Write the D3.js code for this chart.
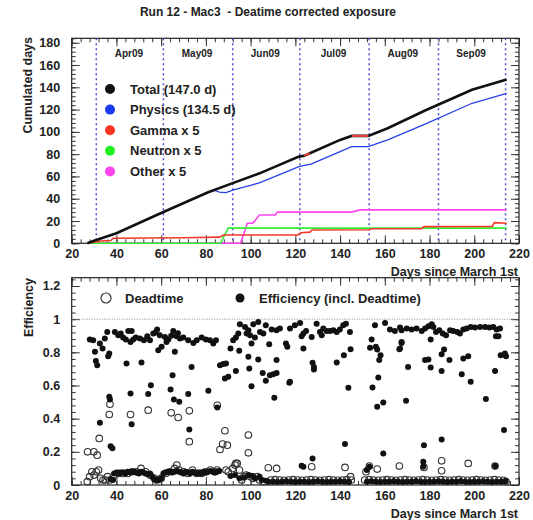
<!DOCTYPE html>
<html>
<head>
<meta charset="utf-8">
<script src="https://cdn.jsdelivr.net/npm/d3@7"></script>
<style>
  body { margin: 0; background: #fff; }
  text { font-family: "Liberation Sans", Arial, Helvetica, sans-serif; font-weight: bold; fill: #222; }
</style>
</head>
<body>
<div id="chart"></div>
<script>
// ---- data ----
var xTickValues = [20, 40, 60, 80, 100, 120, 140, 160, 180, 200, 220];
var daysTicks = [0, 20, 40, 60, 80, 100, 120, 140, 160, 180];
var effTicks = [0, 0.2, 0.4, 0.6, 0.8, 1, 1.2];

var monthStarts = [31, 61, 92, 122, 153, 184, 214];
var monthNames = ["Apr09", "May09", "Jun09", "Jul09", "Aug09", "Sep09"];

// cumulated days [day, value]
var totalDays = [[27,0],[30,2.2],[40,9],[60,27.2],[81,45.8],[92,54],[104,62.8],[121.6,77.8],[124,78.5],[126.5,80.8],
  [140,92.8],[145.2,96.4],[152.6,96.4],[161.3,103.3],[178,119.2],[199,137.8],[214.5,147]];
var totalRedSegments = [[[124,78.5],[126.5,80.8]], [[145.2,96.4],[152.6,96.4]]];
var physicsDays = [[27,0],[30,2.2],[40,9],[60,27.2],[81,45.8],[84,47.5],[86,46],[89,45.5],[92,47.8],[97,50.5],[100,52],
  [104.2,54.5],[121.6,68.8],[123,69.5],[127,71],[140,82.3],[145.2,86.8],[152.6,86.8],[161.3,92.8],[178,106.9],[199,125.7],[214.5,134.5]];
var gammaDays = [[27,0],[30,1],[33,2],[37.5,2.5],[38.5,4.5],[70,5],[86,5.5],[88,7.5],[121,7.5],[122.5,9.5],[126.5,10],
  [127.5,12],[153,12.2],[154,13],[176.5,13.2],[177.5,15],[208,15.2],[209,18.5],[214.5,18]];
var neutronDays = [[27,0],[86.5,0],[90,13.6],[214.5,13.6]];
var otherDays = [[27,0],[95.5,0],[98.5,18],[101,18],[104,25.4],[111,25.4],[112,28],[145,28],[149,30],[214.5,30]];

var legendNames = ["Total (147.0 d)", "Physics (134.5 d)", "Gamma x 5", "Neutron x 5", "Other x 5"];

// efficiency (filled) [day, eff]
var efficiency = [
  [28.1,0.877],[29.6,0.873],[30.4,0.803],[30.8,0.747],[31.4,0.722],[32.6,0.853],[33.8,0.823],[34.8,0.883],[35.9,0.923],
  [36.3,0.777],[36.8,0.793],[32.6,0.375],[36.8,0.532],[37.1,0.516],[37.4,0.234],[38.2,0.222],[39.3,0.923],[40.8,0.903],
  [41.9,0.913],[43.0,0.889],[44.2,0.877],[45.3,0.929],[46.8,0.929],[46.3,0.863],[47.5,0.877],[48.7,0.889],[44.5,0.733],
  [51.2,0.739],[46.3,0.552],[46.8,0.367],[50.5,0.883],[52.3,0.873],[53.8,0.897],[55.0,0.873],[56.5,0.913],[57.5,0.92],
  [58.2,0.937],[59.4,0.903],[58.7,0.813],[60.2,0.833],[54.2,0.548],[55.4,0.602],[61.7,0.893],[63.2,0.877],[62.4,0.863],
  [64.5,0.90],[65.4,0.929],[66.1,0.803],[66.9,0.897],[67.5,0.915],[68.4,0.883],[65.1,0.662],[64.2,0.576],[65.7,0.516],
  [68.1,0.502],
  [69.9,0.889],[72.1,0.873],[74.4,0.857],[75.9,0.873],[78.1,0.889],[80.0,0.877],[81.8,0.873],[83.3,0.853],[84.5,0.873],
  [73.6,0.712],[72.1,0.548],[72.6,0.335],[81.1,0.568],[85.1,0.467],[86.3,0.722],[87.8,0.729],[89.0,0.733],[88.5,0.642],
  [90.0,0.652],[91.0,0.823],[92.2,0.873],[93.4,0.889],[94.5,0.913],[94.9,0.809],[93.4,0.688],[95.2,0.969],[97.5,0.953],
  [99.0,0.933],[98.2,0.913],[99.7,0.903],[100.4,0.853],[101.9,0.889],[101.2,0.969],[103.4,0.983],[99.0,0.773],[99.4,0.702],
  [103.4,0.757],[100.4,0.596],[104.2,0.923],[105.7,0.913],[106.8,0.963],[105.4,0.676],[106.8,0.628],[108.3,0.849],
  [108.6,0.662],[110.1,0.668],[111.6,0.676],[111.6,0.753],[110.6,0.526],[109.4,0.937],[111.6,0.933],[113.1,0.943],
  [115.8,0.853],[116.4,0.833],[117.3,0.616],
  [117.6,0.943],[119.8,0.963],[122.1,0.977],[123.6,0.913],[124.8,0.929],[122.8,0.897],[123.6,0.823],[127.3,0.893],
  [129.5,0.973],[131.0,0.923],[131.8,0.903],[132.5,0.943],[134.0,0.929],[135.5,0.929],[137.0,0.933],[138.5,0.923],
  [139.9,0.937],[141.4,0.963],[142.6,0.973],[144.4,0.923],[127.7,0.737],[128.3,0.712],[128.3,0.696],[138.5,0.739],
  [141.7,0.783],[144.7,0.819],[117.6,0.622],[143.7,0.586],[142.2,0.247],[127.7,0.16],[122.8,0.116],[123.6,0.11],
  [155.6,0.963],[160.1,0.977],[154.1,0.877],[156.0,0.833],[156.6,0.817],[157.5,0.753],[158.1,0.783],[153.4,0.827],
  [157.1,0.648],[154.5,0.588],[156.6,0.472],[159.3,0.498],[159.3,0.19],[151.9,0.09],[153.1,0.11],[162.3,0.937],
  [164.5,0.929],[167.5,0.933],[166.5,0.819],[167.5,0.857],
  [166.8,0.949],[169.8,0.943],[172.0,0.937],[174.2,0.943],[176.5,0.929],[178.0,0.943],[179.5,0.957],[181.0,0.969],
  [181.7,0.953],[182.9,0.923],[184.4,0.933],[185.9,0.913],[187.4,0.903],[189.2,0.933],[190.6,0.929],[192.4,0.923],
  [193.6,0.913],[195.1,0.937],[196.6,0.943],[198.4,0.953],[200.3,0.949],[202.6,0.953],[204.8,0.953],[206.7,0.949],
  [208.5,0.953],[210.0,0.937],[211.5,0.943],
  [167.5,0.863],[166.8,0.823],[180.5,0.877],[178.0,0.753],[179.5,0.757],[180.5,0.708],[185.4,0.789],[186.5,0.817],
  [188.9,0.753],[185.4,0.688],[195.1,0.763],[197.3,0.777],[194.4,0.668],[198.4,0.622],[170.4,0.712],[169.5,0.508],
  [205.2,0.518],[209.7,0.897],[210.8,0.897],[209.3,0.688],[211.8,0.783],[213.7,0.793],[214.2,0.777],[213.3,0.331],
  [177.5,0.24],[185.4,0.275],[177.2,0.14],[177.2,0.11],[209.3,0.114],
  // low band
  [37.5,0.035],[38.5,0.03],[39,0.07],[40,0.075],[41,0.07],[42,0.075],[43,0.075],[44,0.07],[45,0.08],[46,0.075],[47,0.08],
  [48,0.08],[49,0.075],[50,0.07],[51,0.08],[52,0.075],[53,0.07],[54,0.065],[55,0.07],[56,0.05],[57,0.035],[58,0.03],
  [59,0.03],[60,0.04],[61,0.07],[62,0.075],[63,0.08],[64,0.08],[65,0.075],[66,0.08],[67,0.085],[68,0.08],[69,0.075],
  [70,0.07],[71,0.08],[72,0.075],[73,0.07],[74,0.08],[75,0.075],[76,0.07],[77,0.075],[78,0.07],[79,0.08],[80,0.075],
  [81,0.08],[82,0.085],[83,0.08],[84,0.075],[85,0.08],[86,0.085],[91,0.055],[93,0.06],[95,0.04],[97,0.045],[99,0.06],
  [101,0.055],[102,0.04],[104,0.05],[105,0.03],[107,0.025],
  [108,0.02],[110,0.02],[112,0.018],[114,0.02],[116,0.022],[118,0.02],[120,0.018],[122,0.02],[124,0.02],[126,0.018],
  [128,0.02],[130,0.022],[132,0.02],[134,0.018],[136,0.02],[138,0.02],[140,0.022],[142,0.02],[144,0.018],
  [152,0.02],[154,0.022],[156,0.02],[158,0.018],[160,0.02],[162,0.02],[164,0.022],[166,0.02],[168,0.018],[170,0.02],
  [172,0.02],[174,0.022],[176,0.02],[178,0.018],[180,0.02],[182,0.02],[184,0.022],[186,0.02],[188,0.018],[190,0.02],
  [192,0.02],[194,0.022],[196,0.02],[198,0.018],[200,0.02],[202,0.02],[204,0.022],[206,0.02],[208,0.018],[210,0.02],
  [212,0.02],[214,0.022]
];

// deadtime (open) [day, value]
var deadtime = [
  [27.1,0.2],[29.9,0.2],[31.4,0.18],[32.3,0.281],[36.8,0.425],[37.1,0.487],[46.3,0.425],[54.2,0.451],[64.5,0.435],
  [67.6,0.407],[72.6,0.447],[72.6,0.261],[85.1,0.481],[88.5,0.327],[86.3,0.214],[87.5,0.247],[89.6,0.24],[99.0,0.301],
  [99.0,0.194],[93.4,0.13],[107.9,0.104],[111.6,0.1],[127.3,0.11],[142.2,0.106],[144.7,0.05],[153.1,0.114],[156.6,0.096],
  [151.6,0.08],[166.5,0.114],[177.5,0.106],[185.4,0.146],[185.4,0.086],[197.3,0.13],[209.3,0.114],[214.2,0.02],
  // low band
  [27,0.02],[28,0.05],[29,0.08],[30,0.06],[31,0.08],[32,0.09],[33,0.04],[34,0.03],[35,0.03],[36,0.05],[37,0.03],
  [39,0.06],[41,0.07],[43,0.07],[45,0.07],[47,0.08],[49,0.08],[51,0.10],[53,0.08],[55,0.06],[57,0.04],[58,0.03],
  [60,0.04],[62,0.07],[64,0.08],[66,0.10],[67,0.12],[68,0.09],[70,0.08],[72,0.07],[74,0.09],[76,0.07],[78,0.07],
  [80,0.08],[82,0.09],[84,0.08],[85,0.09],[89,0.09],[90,0.08],[92,0.10],[93,0.12],[94,0.13],[95,0.09],[96,0.03],
  [97,0.05],[98,0.06],[100,0.05],[101,0.04],[103,0.05],[104,0.03],[106,0.02],
  [109,0.03],[111,0.032],[113,0.03],[115,0.028],[117,0.03],[119,0.032],[121,0.03],[123,0.028],[125,0.03],[127,0.032],
  [129,0.03],[131,0.028],[133,0.03],[135,0.032],[137,0.03],[139,0.028],[141,0.03],[143,0.032],[145,0.03],
  [151,0.03],[153,0.032],[155,0.03],[157,0.028],[159,0.03],[161,0.032],[163,0.03],[165,0.028],[167,0.03],[169,0.032],
  [171,0.03],[173,0.028],[175,0.03],[177,0.032],[179,0.03],[181,0.028],[183,0.03],[185,0.032],[187,0.03],[189,0.028],
  [191,0.03],[193,0.032],[195,0.03],[197,0.028],[199,0.03],[201,0.032],[203,0.03],[205,0.028],[207,0.03],[209,0.032],
  [211,0.03],[213,0.028]
];

// ---- layout ----
var svgWidth = 533, svgHeight = 520;
var frameLeft = 71.7, frameRight = 519;

var svg = d3.select("#chart").append("svg")
  .attr("width", svgWidth)
  .attr("height", svgHeight);

var x = d3.scaleLinear().domain([20, 220]).range([frameLeft, frameRight]);
var yTop = d3.scaleLinear().domain([0, 184]).range([243.3, 38.3]);
var yBot = d3.scaleLinear().domain([0, 1.25]).range([485, 277.7]);

// title
svg.append("text")
  .attr("x", 268).attr("y", 16)
  .attr("text-anchor", "middle")
  .style("font-size", "12px")
  .style("white-space", "pre")
  .text("Run 12 - Mac3  - Deatime corrected exposure");

// draws frame, ticks on all 4 sides, x labels and x title
function drawFrame(y, majors, minorStep, fmt) {
  var g = svg.append("g");
  var top = y.range()[1], bottom = y.range()[0];
  var xMinor = d3.range(20, 220.01, 4);
  var yMinor = d3.range(y.domain()[0], y.domain()[1] + 1e-9, minorStep);

  // bottom x
  var bx = g.append("g").attr("transform", "translate(0," + bottom + ")")
    .call(d3.axisBottom(x).tickValues(xTickValues).tickSize(-8).tickPadding(6));
  bx.select(".domain").remove();
  bx.selectAll("text").style("font-size", "12.5px").attr("fill", "#222");
  var bxm = g.append("g").attr("transform", "translate(0," + bottom + ")")
    .call(d3.axisBottom(x).tickValues(xMinor).tickSize(-4).tickFormat(""));
  bxm.select(".domain").remove();
  // top x
  [[-8, xTickValues], [-4, xMinor]].forEach(function(t) {
    var a = g.append("g").attr("transform", "translate(0," + top + ")")
      .call(d3.axisTop(x).tickValues(t[1]).tickSize(t[0]).tickFormat(""));
    a.select(".domain").remove();
  });
  // left y
  var ly = g.append("g").attr("transform", "translate(" + frameLeft + ",0)")
    .call(d3.axisLeft(y).tickValues(majors).tickSize(-8).tickPadding(11.5).tickFormat(fmt));
  ly.select(".domain").remove();
  ly.selectAll("text").style("font-size", "12.5px").attr("fill", "#222");
  [[frameLeft, d3.axisLeft], [frameRight, d3.axisRight]].forEach(function(s, i) {
    var a = g.append("g").attr("transform", "translate(" + s[0] + ",0)")
      .call(s[1](y).tickValues(yMinor).tickSize(-4).tickFormat(""));
    a.select(".domain").remove();
    if (i === 1) {
      var b = g.append("g").attr("transform", "translate(" + s[0] + ",0)")
        .call(d3.axisRight(y).tickValues(majors).tickSize(-8).tickFormat(""));
      b.select(".domain").remove();
    }
  });
  g.selectAll("line").attr("stroke", "#333").attr("stroke-width", 1);

  g.append("rect")
    .attr("x", frameLeft).attr("y", top)
    .attr("width", frameRight - frameLeft).attr("height", bottom - top)
    .attr("fill", "none").attr("stroke", "#222").attr("stroke-width", 1.2);

  g.append("text")
    .attr("x", 518).attr("y", bottom + 33)
    .attr("text-anchor", "end")
    .style("font-size", "12.5px")
    .text("Days since March 1st");
  return g;
}

// ===== top panel =====
drawFrame(yTop, daysTicks, 4, d3.format("d"));

svg.append("text")
  .attr("transform", "translate(32," + 37 + ") rotate(-90)")
  .attr("text-anchor", "end")
  .style("font-size", "12.5px")
  .text("Cumulated days");

// month boundaries
svg.selectAll(".month-line")
  .data(monthStarts)
  .enter().append("line")
  .attr("x1", d => x(d)).attr("x2", d => x(d))
  .attr("y1", yTop.range()[1]).attr("y2", yTop.range()[0])
  .attr("stroke", "#4f4fd0")
  .attr("stroke-width", 1.5)
  .attr("stroke-dasharray", "2,3");

svg.selectAll(".month-label")
  .data(monthNames)
  .enter().append("text")
  .attr("x", (d, i) => (x(monthStarts[i]) + x(monthStarts[i + 1])) / 2 - 1)
  .attr("y", 57)
  .attr("text-anchor", "middle")
  .style("font-size", "10px")
  .text(d => d);

var line = d3.line().x(d => x(d[0])).y(d => yTop(d[1]));

var series = [
  {data: otherDays, color: "#ff44ee", width: 1.6},
  {data: neutronDays, color: "#33ee33", width: 1.6},
  {data: gammaDays, color: "#f23a2a", width: 1.6},
  {data: physicsDays, color: "#2a3fe8", width: 1.3},
  {data: totalDays, color: "#111", width: 2.6}
];
series.forEach(function(s) {
  svg.append("path")
    .datum(s.data)
    .attr("d", line)
    .attr("fill", "none")
    .attr("stroke", s.color)
    .attr("stroke-width", s.width);
});
totalRedSegments.forEach(function(seg) {
  svg.append("path").datum(seg).attr("d", line)
    .attr("fill", "none").attr("stroke", "#e84040").attr("stroke-width", 2);
});

// legend
var legendColors = ["#111", "#1a3af0", "#ff3322", "#22ee22", "#ff44ee"];
var legend = svg.selectAll(".legend")
  .data(legendNames)
  .enter().append("g")
  .attr("transform", (d, i) => "translate(110," + (89 + i * 20.6) + ")");
legend.append("circle").attr("r", 5).attr("fill", (d, i) => legendColors[i]);
legend.append("text")
  .attr("x", 20).attr("y", 4.5)
  .style("font-size", "13px")
  .text(d => d);

// ===== bottom panel =====
drawFrame(yBot, effTicks, 0.04, d => String(+d.toFixed(1)));

svg.append("text")
  .attr("transform", "translate(33," + 278 + ") rotate(-90)")
  .attr("text-anchor", "end")
  .style("font-size", "12.5px")
  .text("Efficiency");

svg.append("line")
  .attr("x1", frameLeft).attr("x2", frameRight)
  .attr("y1", yBot(1)).attr("y2", yBot(1))
  .attr("stroke", "#888").attr("stroke-width", 1)
  .attr("stroke-dasharray", "1,1.5");

svg.selectAll(".dead")
  .data(deadtime)
  .enter().append("circle")
  .attr("cx", d => x(d[0]))
  .attr("cy", d => yBot(d[1]))
  .attr("r", 3.3)
  .attr("fill", "none")
  .attr("stroke", "#333")
  .attr("stroke-width", 1.1);

svg.selectAll(".eff")
  .data(efficiency)
  .enter().append("circle")
  .attr("cx", d => x(d[0]))
  .attr("cy", d => yBot(d[1]))
  .attr("r", 3)
  .attr("fill", "#111");

// bottom legend
svg.append("circle").attr("cx", 106).attr("cy", 298).attr("r", 5)
  .attr("fill", "none").attr("stroke", "#333").attr("stroke-width", 1.2);
svg.append("text").attr("x", 125).attr("y", 302.5).style("font-size", "13px").text("Deadtime");
svg.append("circle").attr("cx", 240).attr("cy", 298).attr("r", 4.5).attr("fill", "#111");
svg.append("text").attr("x", 259).attr("y", 302.5).style("font-size", "13px").text("Efficiency (incl. Deadtime)");
</script>
</body>
</html>
